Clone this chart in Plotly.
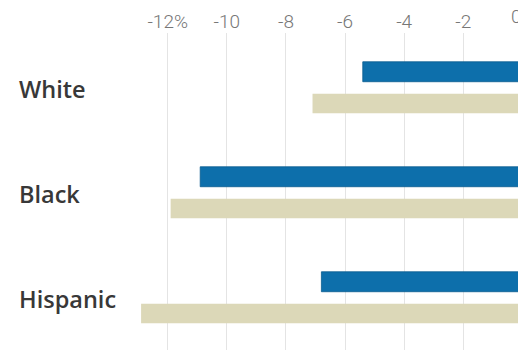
import plotly.graph_objects as go

# Percentage change by group, two series per group
groups = ["White", "Black", "Hispanic"]
series_blue = [-5.4, -10.9, -6.8]
series_beige = [-7.1, -11.9, -12.9]
tick_vals = [-12, -10, -8, -6, -4, -2]
tick_text = ["-12%", "-10", "-8", "-6", "-4", "-2"]

BLUE = "#0d6fab"
BEIGE = "#dcd8b8"

x_range = [-17.673, -0.149]
y_range = [2.5, -0.519]

fig = go.Figure()
fig.add_trace(go.Bar(
    y=groups, x=series_blue, orientation="h", name="Series 1",
    marker=dict(color=BLUE, line=dict(color="#0b5d90", width=0.8)),
    width=0.19, offset=-0.245,
))
fig.add_trace(go.Bar(
    y=groups, x=series_beige, orientation="h", name="Series 2",
    marker=dict(color=BEIGE, line=dict(width=0)),
    width=0.185, offset=0.06,
))

annotations = []
for g in groups:
    annotations.append(dict(
        text=g, xref="paper", x=17 / 518, xanchor="left",
        yref="y", y=g, yanchor="middle", yshift=-1, showarrow=False,
        font=dict(family="Open Sans", size=23.5, color="#383838", weight=600),
    ))
# zero tick label sits just past the right edge of the plot area
zero_frac = (0 - x_range[0]) / (x_range[1] - x_range[0])
annotations.append(dict(
    text="0", xref="paper", x=zero_frac, xanchor="center", xshift=-6,
    yref="paper", y=1, yanchor="bottom", yshift=3, showarrow=False,
    font=dict(family="Roboto", size=19, color="#777777", weight=300),
))

fig.update_layout(
    width=518, height=350,
    margin=dict(l=0, r=0, t=33, b=0, pad=0),
    paper_bgcolor="white", plot_bgcolor="white",
    barmode="overlay", showlegend=False,
    annotations=annotations,
    xaxis=dict(
        side="top", range=x_range, tickvals=tick_vals, ticktext=tick_text,
        showgrid=True, gridcolor="#e4e4e4", gridwidth=1,
        zeroline=False, showline=False, ticks="",
        tickfont=dict(family="Roboto", size=19, color="#777777", weight=300),
    ),
    yaxis=dict(
        range=y_range, showticklabels=False, showgrid=False,
        zeroline=False, showline=False, ticks="",
    ),
)

fig.write_html("out.html")
